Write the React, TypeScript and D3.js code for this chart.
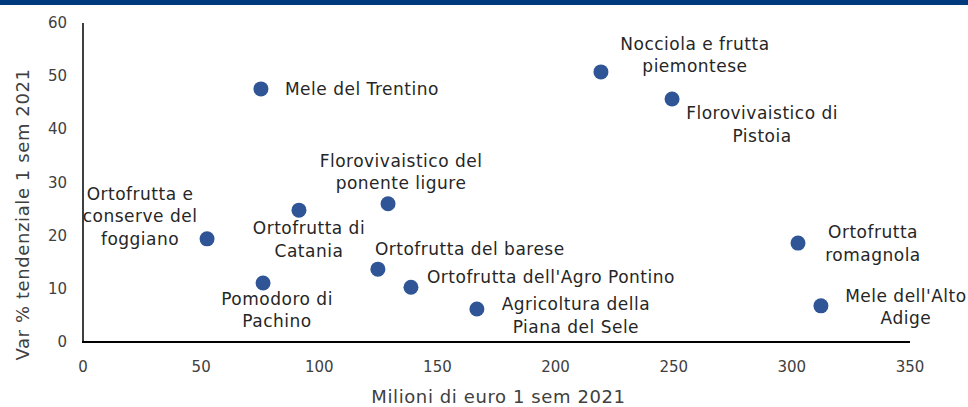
import { useEffect, useRef } from "react";
import * as d3 from "d3";

// districts: value (million euro, 1st half 2021) and yoy % change
const districts = [
  "Mele del Trentino",
  "Nocciola e frutta\npiemontese",
  "Florovivaistico di\nPistoia",
  "Florovivaistico del\nponente ligure",
  "Ortofrutta di\nCatania",
  "Ortofrutta e\nconserve del\nfoggiano",
  "Pomodoro di\nPachino",
  "Ortofrutta del barese",
  "Ortofrutta dell'Agro Pontino",
  "Agricoltura della\nPiana del Sele",
  "Ortofrutta\nromagnola",
  "Mele dell'Alto\nAdige",
];
const milioni = [75.3, 219.2, 249.3, 129.1, 91.4, 52.5, 76.2, 124.8, 138.8, 166.7, 302.6, 312.3];
const variazione = [47.6, 50.8, 45.7, 26.0, 24.8, 19.4, 11.1, 13.7, 10.3, 6.2, 18.6, 6.8];

// label placement relative to the dot: [dx, dy of first line, anchor]
const labelPlacement: [number, number, string][] = [
  [24, 6, "start"],
  [94, -22, "middle"],
  [90, 20, "middle"],
  [13, -37, "middle"],
  [10, 24, "middle"],
  [-67, -39, "middle"],
  [14, 22, "middle"],
  [-3, -14, "start"],
  [16, -4, "start"],
  [99, 1, "middle"],
  [75, -5, "middle"],
  [85, -4, "middle"],
];

const xTicks = [0, 50, 100, 150, 200, 250, 300, 350];
const yTicks = [0, 10, 20, 30, 40, 50, 60];

const App = () => {
  const svgRef = useRef<SVGSVGElement>(null);

  useEffect(() => {
    if (!svgRef.current) return;
    const width = 968;
    const height = 407;
    const svg = d3.select(svgRef.current);
    svg.selectAll("*").remove();

    const font = "'Century Gothic', 'DejaVu Sans', sans-serif";
    const x = d3.scaleLinear().domain([0, 350]).range([83, 910]);
    const y = d3.scaleLinear().domain([0, 60]).range([342, 23]);

    svg.append("rect").attr("width", width).attr("height", height).attr("fill", "#fff");
    // top band
    svg.append("rect").attr("width", width).attr("height", 5).attr("fill", "#003A7D");

    // axes
    svg.append("line")
      .attr("x1", x(0)).attr("x2", x(0))
      .attr("y1", y(60)).attr("y2", y(0))
      .attr("stroke", "#000").attr("stroke-width", 1.5);
    svg.append("line")
      .attr("x1", x(0) - 1).attr("x2", x(350))
      .attr("y1", y(0)).attr("y2", y(0))
      .attr("stroke", "#000").attr("stroke-width", 2.2);

    svg.append("g").selectAll("text")
      .data(yTicks)
      .enter()
      .append("text")
      .attr("x", 67)
      .attr("y", (d) => y(d) + 5)
      .attr("text-anchor", "end")
      .attr("font-family", font)
      .attr("font-size", 15)
      .attr("fill", "#404040")
      .text((d) => d);

    svg.append("g").selectAll("text")
      .data(xTicks)
      .enter()
      .append("text")
      .attr("x", (d) => x(d))
      .attr("y", 372)
      .attr("text-anchor", "middle")
      .attr("font-family", font)
      .attr("font-size", 15)
      .attr("fill", "#404040")
      .text((d) => d);

    svg.append("text")
      .attr("x", x(175) + 2)
      .attr("y", 403)
      .attr("text-anchor", "middle")
      .attr("font-family", font)
      .attr("font-size", 18)
      .attr("letter-spacing", 0.6)
      .attr("fill", "#404040")
      .text("Milioni di euro 1 sem 2021");

    svg.append("text")
      .attr("transform", `translate(29,${(y(0) + y(60)) / 2 + 32}) rotate(-90)`)
      .attr("text-anchor", "middle")
      .attr("font-family", font)
      .attr("font-size", 18)
      .attr("letter-spacing", 0.6)
      .attr("fill", "#404040")
      .text("Var % tendenziale 1 sem 2021");

    // dots
    svg.append("g").selectAll("circle")
      .data(districts)
      .enter()
      .append("circle")
      .attr("cx", (_, i) => x(milioni[i]))
      .attr("cy", (_, i) => y(variazione[i]))
      .attr("r", 7.5)
      .attr("fill", "#2F5597");

    // labels
    const labels = svg.append("g").selectAll("text")
      .data(districts)
      .enter()
      .append("text")
      .attr("font-family", font)
      .attr("font-size", 17)
      .attr("letter-spacing", 0.5)
      .attr("fill", "#262626")
      .attr("text-anchor", (_, i) => labelPlacement[i][2])
      .attr("x", (_, i) => x(milioni[i]) + labelPlacement[i][0])
      .attr("y", (_, i) => y(variazione[i]) + labelPlacement[i][1]);

    labels.each(function (d, i) {
      const t = d3.select(this);
      const cx = x(milioni[i]) + labelPlacement[i][0];
      d.split("\n").forEach((line, k) => {
        t.append("tspan")
          .attr("x", cx)
          .attr("dy", k === 0 ? 0 : 22.5)
          .text(line);
      });
    });
  }, []);

  return (
    <svg
      ref={svgRef}
      width={968}
      height={407}
      style={{ display: "block", position: "absolute", left: 0, top: 0 }}
    />
  );
};

export default App;
